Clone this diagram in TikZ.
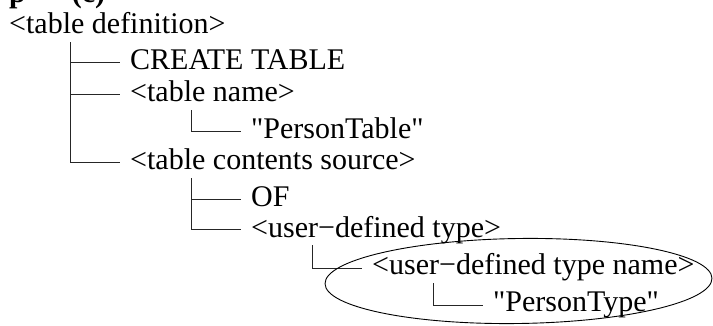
\documentclass[tikz,border=0pt]{standalone}
\usepackage{fontspec}
\setmainfont{Liberation Serif}
% a family without the TeX quote mapping, so " stays straight
\newfontfamily\treefont{Liberation Serif}
\begin{document}
\begin{tikzpicture}[x=1pt,y=-1pt,
  term/.style={anchor=base west, inner xsep=8pt, inner ysep=0pt,
    text height=22pt, text depth=8pt, font=\treefont\fontsize{30}{36}\selectfont},
  branch/.style={line width=1pt, black!85, shorten >=2pt}]
\useasboundingbox (0,0) rectangle (713,326);
\clip (0,0) rectangle (713,326);

% heading, mostly above the visible area
\node[anchor=base west, inner sep=0pt, font=\treefont\fontsize{30}{36}\selectfont\bfseries]
  (head) at (9,2.5) {p\hspace{46pt}(c)};

% parse tree
\node[term] (def)   at (1,34)    {<table definition>};
\node[term] (ct)    at (122,70)  {CREATE TABLE};
\node[term] (tname) at (122,102) {<table name>};
\node[term] (ptab)  at (243,139) {"PersonTable"};
\node[term] (src)   at (122,170) {<table contents source>};
\node[term] (of)    at (243,207) {OF};
\node[term] (udt)   at (243,237) {<user−defined type>};
\node[term] (udtn)  at (364,275) {<user−defined type name>};
\node[term] (ptype) at (485,312) {"PersonType"};

% trunks start below each parent
\coordinate (t0) at ([xshift=69pt]def.south west);
\coordinate (t1) at ([xshift=69pt]tname.south west);
\coordinate (t2) at ([xshift=69pt]src.south west);
\coordinate (t3) at ([xshift=69pt]udt.south west);
\coordinate (t4) at ([xshift=69pt]udtn.south west);

\draw[branch] (t0) |- (src.west);
\draw[branch] (t0 |- ct.west) -- (ct.west);
\draw[branch] (t0 |- tname.west) -- (tname.west);
\draw[branch] (t1) |- (ptab.west);
\draw[branch] (t2) |- (udt.west);
\draw[branch] (t2 |- of.west) -- (of.west);
\draw[branch] (t3) |- (udtn.west);
\draw[branch] (t4) |- (ptype.west);

% highlight around the type-name subtree
\draw[line width=0.9pt, rotate around={0.8:(518.5,281)}]
  (518.5,281) ellipse [x radius=193.5, y radius=42.5];
\end{tikzpicture}
\end{document}
